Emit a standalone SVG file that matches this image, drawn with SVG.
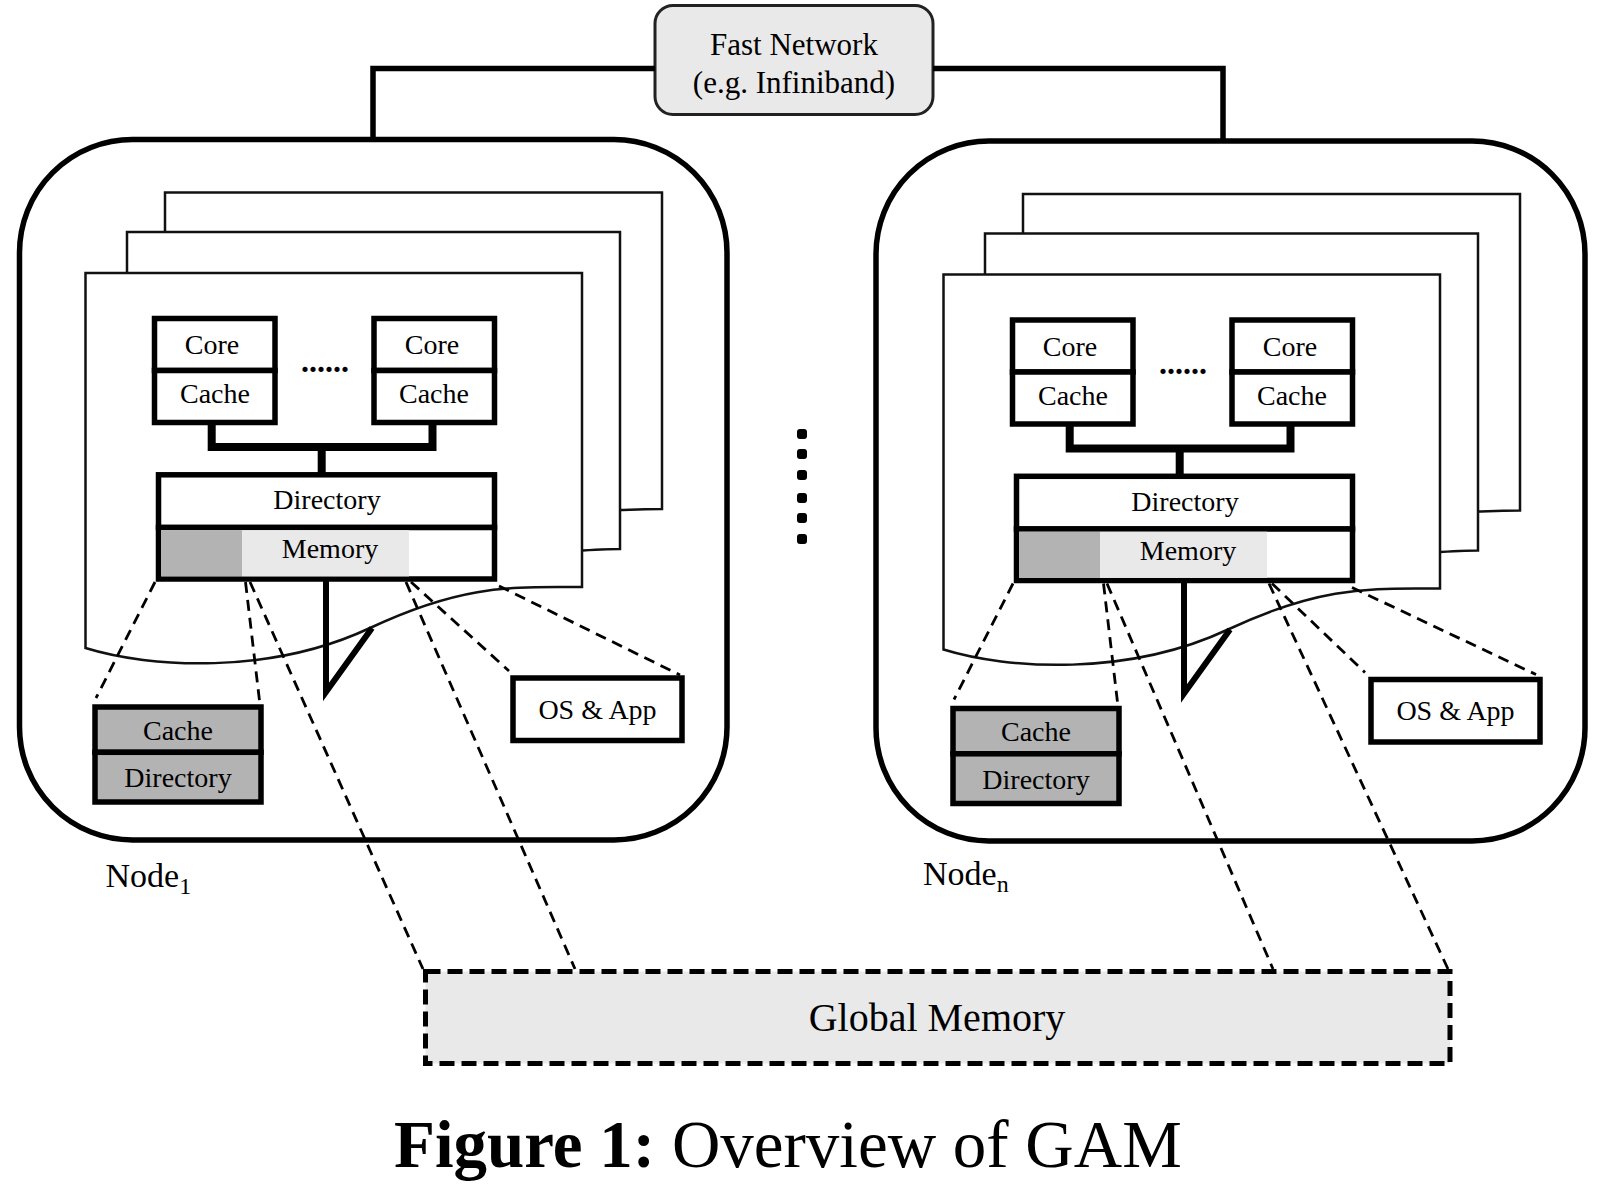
<svg xmlns="http://www.w3.org/2000/svg" width="1614" height="1194" viewBox="0 0 1614 1194">
<style>
text{font-family:"Liberation Serif","Times New Roman",serif;fill:#000;}
.lbl{font-size:28px;text-anchor:middle;}
.ell{font-size:32px;font-weight:bold;text-anchor:middle;}
.box{fill:#fff;stroke:#000;stroke-width:5.5;}
.gbox{fill:#b3b3b3;stroke:#000;stroke-width:5.5;}
.outer{fill:#fff;stroke:#000;stroke-width:5.5;}
.page{fill:#fff;stroke:#111;stroke-width:2.5;stroke-linejoin:miter;}
.bus{fill:none;stroke:#000;stroke-width:8;stroke-linejoin:miter;}
.net{fill:none;stroke:#000;stroke-width:5.5;stroke-linejoin:miter;}
.dash{fill:none;stroke:#000;stroke-width:2.8;stroke-dasharray:11 7;}
.tail{fill:none;stroke:#000;stroke-width:6;stroke-linejoin:miter;}
.dot{fill:#000;}
</style>

<!-- Node 1 -->
<g id="node-1">
  <rect id="node-1-frame" class="outer" x="19.5" y="139.5" width="707.5" height="700.5" rx="113" ry="113"/>
  <path id="node-1-page3" class="page" d="M165,192.5 H662 V509 C645,509 630,510 612,510 L165,520 Z"/>
  <path id="node-1-page2" class="page" d="M127,232 H620 V549 C605,549 590,550 575,551 L127,560 Z"/>
  <path id="node-1-page1" class="page" d="M85.5,273 H582 V587 C520,588 470,581 370,628 C270,675 150,668 85.5,648 Z"/>
  <g id="node-1-core-a">
    <rect class="box" x="154.5" y="318.5" width="120.5" height="52"/>
    <rect class="box" x="154.5" y="370.5" width="120.5" height="52"/>
    <text class="lbl" x="212" y="354">Core</text>
    <text class="lbl" x="215" y="403">Cache</text>
  </g>
  <text id="node-1-ellipsis" class="ell" x="325" y="372">......</text>
  <g id="node-1-core-b">
    <rect class="box" x="374" y="318.5" width="120.5" height="52"/>
    <rect class="box" x="374" y="370.5" width="120.5" height="52"/>
    <text class="lbl" x="432" y="354">Core</text>
    <text class="lbl" x="434" y="403">Cache</text>
  </g>
  <g id="node-1-dirmem">
    <rect class="box" x="158.5" y="474.8" width="336" height="52.7"/>
    <rect class="box" x="158.5" y="527.5" width="336" height="51.5"/>
    <rect x="161" y="530.2" width="81" height="46.2" fill="#b3b3b3"/>
    <rect x="242" y="530.2" width="167" height="46.2" fill="#e9e9e9"/>
    <text class="lbl" x="327" y="509">Directory</text>
    <text class="lbl" x="330" y="558">Memory</text>
  </g>
  <g id="node-1-cachedir">
    <rect class="gbox" x="95" y="707" width="166" height="45.3"/>
    <rect class="gbox" x="95" y="752.3" width="166" height="49.7"/>
    <text class="lbl" x="178" y="739.5">Cache</text>
    <text class="lbl" x="178" y="787">Directory</text>
  </g>
  <g id="node-1-osapp">
    <rect class="box" x="513" y="678" width="169" height="62.5"/>
    <text class="lbl" x="597.5" y="718.5">OS &amp; App</text>
  </g>
  <text id="node-1-label" x="105.5" y="886.5" font-size="34">Node<tspan font-size="24" dy="7">1</tspan></text>
</g>

<!-- Node n -->
<g id="node-n">
  <rect id="node-n-frame" class="outer" x="876" y="141" width="709" height="700" rx="113" ry="113"/>
  <g transform="translate(858,1.5)">
    <path id="node-n-page3" class="page" d="M165,192.5 H662 V509 C645,509 630,510 612,510 L165,520 Z"/>
    <path id="node-n-page2" class="page" d="M127,232 H620 V549 C605,549 590,550 575,551 L127,560 Z"/>
    <path id="node-n-page1" class="page" d="M85.5,273 H582 V587 C520,588 470,581 370,628 C270,675 150,668 85.5,648 Z"/>
    <g id="node-n-core-a">
      <rect class="box" x="154.5" y="318.5" width="120.5" height="52"/>
      <rect class="box" x="154.5" y="370.5" width="120.5" height="52"/>
      <text class="lbl" x="212" y="354">Core</text>
      <text class="lbl" x="215" y="403">Cache</text>
    </g>
    <text id="node-n-ellipsis" class="ell" x="325" y="372">......</text>
    <g id="node-n-core-b">
      <rect class="box" x="374" y="318.5" width="120.5" height="52"/>
      <rect class="box" x="374" y="370.5" width="120.5" height="52"/>
      <text class="lbl" x="432" y="354">Core</text>
      <text class="lbl" x="434" y="403">Cache</text>
    </g>
    <g id="node-n-dirmem">
      <rect class="box" x="158.5" y="474.8" width="336" height="52.7"/>
      <rect class="box" x="158.5" y="527.5" width="336" height="51.5"/>
      <rect x="161" y="530.2" width="81" height="46.2" fill="#b3b3b3"/>
      <rect x="242" y="530.2" width="167" height="46.2" fill="#e9e9e9"/>
      <text class="lbl" x="327" y="509">Directory</text>
      <text class="lbl" x="330" y="558">Memory</text>
    </g>
    <g id="node-n-cachedir">
      <rect class="gbox" x="95" y="707" width="166" height="45.3"/>
      <rect class="gbox" x="95" y="752.3" width="166" height="49.7"/>
      <text class="lbl" x="178" y="739.5">Cache</text>
      <text class="lbl" x="178" y="787">Directory</text>
    </g>
    <g id="node-n-osapp">
      <rect class="box" x="513" y="678" width="169" height="62.5"/>
      <text class="lbl" x="597.5" y="718.5">OS &amp; App</text>
    </g>
  </g>
  <text id="node-n-label" x="923" y="884.7" font-size="34">Node<tspan font-size="24" dy="7">n</tspan></text>
</g>

<!-- Fast network -->
<g id="network">
  <rect x="655" y="5.5" width="278" height="109" rx="18" ry="18" fill="#e9e9e9" stroke="#222" stroke-width="3"/>
  <text x="794" y="55" font-size="31" text-anchor="middle">Fast Network</text>
  <text x="794" y="92.5" font-size="31" text-anchor="middle">(e.g. Infiniband)</text>
</g>

<!-- Global memory -->
<g id="global-memory">
  <rect x="425.5" y="971.5" width="1024.5" height="92" fill="#e9e9e9" stroke="#000" stroke-width="5" stroke-dasharray="15 7"/>
  <text x="937" y="1031" font-size="40" text-anchor="middle">Global Memory</text>
</g>

<!-- vertical ellipsis between nodes -->
<g id="more-nodes">
  <rect class="dot" x="797" y="429" width="10" height="10" rx="3"/>
  <rect class="dot" x="797" y="449" width="10" height="10" rx="3"/>
  <rect class="dot" x="797" y="470" width="10" height="10" rx="3"/>
  <rect class="dot" x="797" y="493" width="10" height="10" rx="3"/>
  <rect class="dot" x="797" y="513" width="10" height="10" rx="3"/>
  <rect class="dot" x="797" y="534" width="10" height="10" rx="3"/>
</g>

<!-- Connectors -->
<g id="connectors">
  <polyline class="net" points="655,68.5 373,68.5 373,139.5"/>
  <polyline class="net" points="933,68.5 1223,68.5 1223,141"/>
  <g id="node-1-links">
    <polyline class="bus" points="211.7,422.5 211.7,447 432.5,447 432.5,422.5"/>
    <line class="bus" stroke-width="7" x1="321.7" y1="447" x2="321.7" y2="474.8"/>
    <polyline class="tail" points="326,579 326,692 372,628"/>
    <line class="dash" x1="155" y1="582" x2="96" y2="698"/>
    <line class="dash" x1="245.5" y1="582" x2="260" y2="705"/>
    <line class="dash" x1="411" y1="582" x2="509" y2="671"/>
    <line class="dash" x1="499" y1="586" x2="680" y2="675"/>
  </g>
  <g id="node-n-links" transform="translate(858,1.5)">
    <polyline class="bus" points="211.7,422.5 211.7,447 432.5,447 432.5,422.5"/>
    <line class="bus" stroke-width="7" x1="321.7" y1="447" x2="321.7" y2="474.8"/>
    <polyline class="tail" points="326,579 326,692 372,628"/>
    <line class="dash" x1="155" y1="582" x2="96" y2="698"/>
    <line class="dash" x1="245.5" y1="582" x2="260" y2="705"/>
    <line class="dash" x1="414" y1="582" x2="507" y2="671"/>
    <line class="dash" x1="494" y1="586" x2="678" y2="673"/>
  </g>
  <line class="dash" x1="250" y1="582" x2="423" y2="969"/>
  <line class="dash" x1="406" y1="582" x2="575" y2="969"/>
  <line class="dash" x1="1107" y1="583.5" x2="1273" y2="969"/>
  <line class="dash" x1="1269" y1="583.5" x2="1448" y2="969"/>
</g>

<!-- Caption -->
<text id="caption" x="394" y="1167" font-size="67"><tspan font-weight="bold">Figure 1:</tspan> Overview of GAM</text>
</svg>
